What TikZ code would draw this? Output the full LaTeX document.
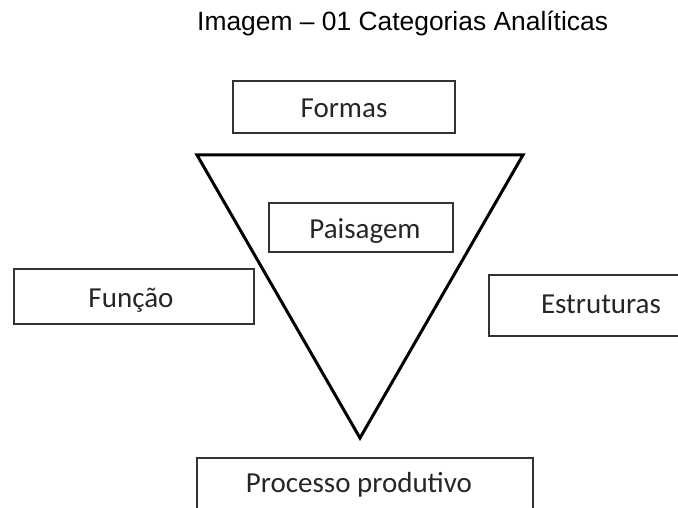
\documentclass[tikz,border=0pt]{standalone}
\usepackage{fontspec}
\setmainfont{Carlito}
\newfontfamily\titlefont{Liberation Sans}
\begin{document}
\begin{tikzpicture}[x=1pt,y=-1pt,
  boxline/.style={draw=black!80, line width=2pt},
  boxtext/.style={anchor=base, inner sep=0pt, font=\fontsize{29}{32}\selectfont, text=black!85},
  triline/.style={draw=black, line width=3pt, line join=miter}]
\useasboundingbox (0,0) rectangle (678,508);
% title
\node[anchor=base west, inner sep=0pt, font=\titlefont\fontsize{26.4}{30}\selectfont] (title) at (197,31) {Imagem – 01 Categorias Analíticas};
% triangle
\coordinate (tl) at (197,155);
\coordinate (tr) at (523,155);
\coordinate (ap) at (360,438);
\draw[triline] (tl) -- (tr) -- (ap) -- cycle;
% boxes
\draw[boxline] (233,81) rectangle (455,133);
\node[boxtext] (formas) at (344,118) {Formas};
\draw[boxline] (269,203) rectangle (453,252);
\node[boxtext] (paisagem) at (365,239) {Paisagem};
\draw[boxline] (14,269) rectangle (254,324);
\node[boxtext] (funcao) at (131,307) {Função};
\draw[boxline] (682,275) -- (489,275) -- (489,336) -- (682,336);
\node[boxtext] (estruturas) at (601,313) {Estruturas};
\draw[boxline] (197,512) -- (197,458) -- (533,458) -- (533,512);
\node[boxtext] (processo) at (359,492) {Processo produtivo};
\end{tikzpicture}
\end{document}
